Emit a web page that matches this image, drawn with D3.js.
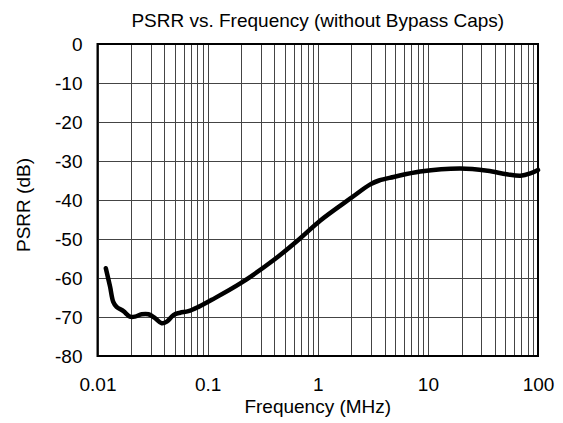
<!DOCTYPE html>
<html>
<head>
<meta charset="utf-8">
<script src="https://cdn.jsdelivr.net/npm/d3@7"></script>
<style>
  body { margin: 0; background: #fff; }
  svg text { font-family: "Liberation Sans", Arial, sans-serif; fill: #000; }
  .grid line { stroke: #444; stroke-width: 1; shape-rendering: crispEdges; }
</style>
</head>
<body>
<svg id="chart"></svg>
<script>
(function() {
  'use strict';
  const W = 563, H = 423;
  const margin = {top: 44, right: 25, bottom: 67, left: 97.5};
  const width = W - margin.left - margin.right;
  const height = H - margin.top - margin.bottom;
  const fontSize = 19;

  // frequency in MHz, PSRR in dB
  const freq = [0.0119, 0.013, 0.0139, 0.0149, 0.0172, 0.0197, 0.0219, 0.0252, 0.029,
    0.0333, 0.0383, 0.0426, 0.0489, 0.0562, 0.0669, 0.0826, 0.109, 0.198, 0.398,
    0.694, 1.05, 1.98, 3.0, 3.6, 4.88, 8.51, 19.8, 34.8, 52, 69.4, 85.1, 100];
  const psrr = [-57.5, -62.2, -66.1, -67.4, -68.5, -69.9, -69.9, -69.3, -69.3,
    -70.3, -71.6, -71.2, -69.5, -68.9, -68.5, -67.4, -65.6, -61.4, -55.4,
    -49.8, -45.3, -39.6, -36.0, -35.0, -34.1, -32.7, -31.9, -32.5, -33.4, -33.8, -33.2, -32.3];

  const xTicks = [0.01, 0.1, 1, 10, 100];
  const xTickLabels = ['0.01', '0.1', '1', '10', '100'];
  const yTicks = [0, -10, -20, -30, -40, -50, -60, -70, -80];

  const title = 'PSRR vs. Frequency (without Bypass Caps)';
  const xLabel = 'Frequency (MHz)';
  const yLabel = 'PSRR (dB)';

  const x = d3.scaleLog().domain([0.01, 100]).range([0, width]);
  const y = d3.scaleLinear().domain([-80, 0]).range([height, 0]);

  const svg = d3.select('#chart')
    .attr('width', W)
    .attr('height', H)
    .append('g')
      .attr('transform', `translate(${margin.left},${margin.top})`);

  // vertical grid at 1..9 of every decade
  const minor = [];
  xTicks.slice(0, -1).forEach(d => {
    for (let k = 1; k < 10; k++) minor.push(d * k);
  });

  const grid = svg.append('g').attr('class', 'grid');

  grid.selectAll('.v')
    .data(minor)
    .enter()
    .append('line')
      .attr('x1', d => Math.round(x(d)) + 0.5)
      .attr('x2', d => Math.round(x(d)) + 0.5)
      .attr('y1', 0)
      .attr('y2', height);

  grid.selectAll('.h')
    .data(yTicks)
    .enter()
    .append('line')
      .attr('x1', 0)
      .attr('x2', width)
      .attr('y1', d => Math.round(y(d)) + 0.5)
      .attr('y2', d => Math.round(y(d)) + 0.5);

  // frame
  svg.append('rect')
    .attr('width', width)
    .attr('height', height)
    .attr('fill', 'none')
    .attr('stroke', '#000')
    .attr('stroke-width', 2);

  const styleText = sel => sel
    .attr('font-size', fontSize)
    .attr('font-family', '"Liberation Sans", Arial, sans-serif')
    .attr('fill', '#000');

  const xAxis = d3.axisBottom(x)
    .tickValues(xTicks)
    .tickFormat((d, i) => xTickLabels[i])
    .tickSize(0)
    .tickPadding(22);

  svg.append('g')
    .attr('transform', `translate(0,${height})`)
    .call(xAxis)
    .call(g => g.select('.domain').remove())
    .selectAll('text')
      .call(styleText);

  const yAxis = d3.axisLeft(y)
    .tickValues(yTicks)
    .tickFormat(d => String(d))
    .tickSize(0)
    .tickPadding(15);

  svg.append('g')
    .call(yAxis)
    .call(g => g.select('.domain').remove())
    .selectAll('text')
      .call(styleText);

  // curve
  const line = d3.line()
    .x((d, i) => x(freq[i]))
    .y(d => y(d))
    .curve(d3.curveCatmullRom.alpha(0.5));

  svg.append('path')
    .datum(psrr)
    .attr('d', line)
    .attr('fill', 'none')
    .attr('stroke', '#000')
    .attr('stroke-width', 4.5)
    .attr('stroke-linejoin', 'round')
    .attr('stroke-linecap', 'round');

  // titles
  svg.append('text')
    .attr('x', width / 2)
    .attr('y', -17)
    .attr('text-anchor', 'middle')
    .call(styleText)
    .text(title);

  svg.append('text')
    .attr('x', width / 2)
    .attr('y', height + 57)
    .attr('text-anchor', 'middle')
    .call(styleText)
    .text(xLabel);

  svg.append('text')
    .attr('transform', `translate(${-67.5},${height / 2 + 5}) rotate(-90)`)
    .attr('text-anchor', 'middle')
    .call(styleText)
    .text(yLabel);
})();
</script>
</body>
</html>
